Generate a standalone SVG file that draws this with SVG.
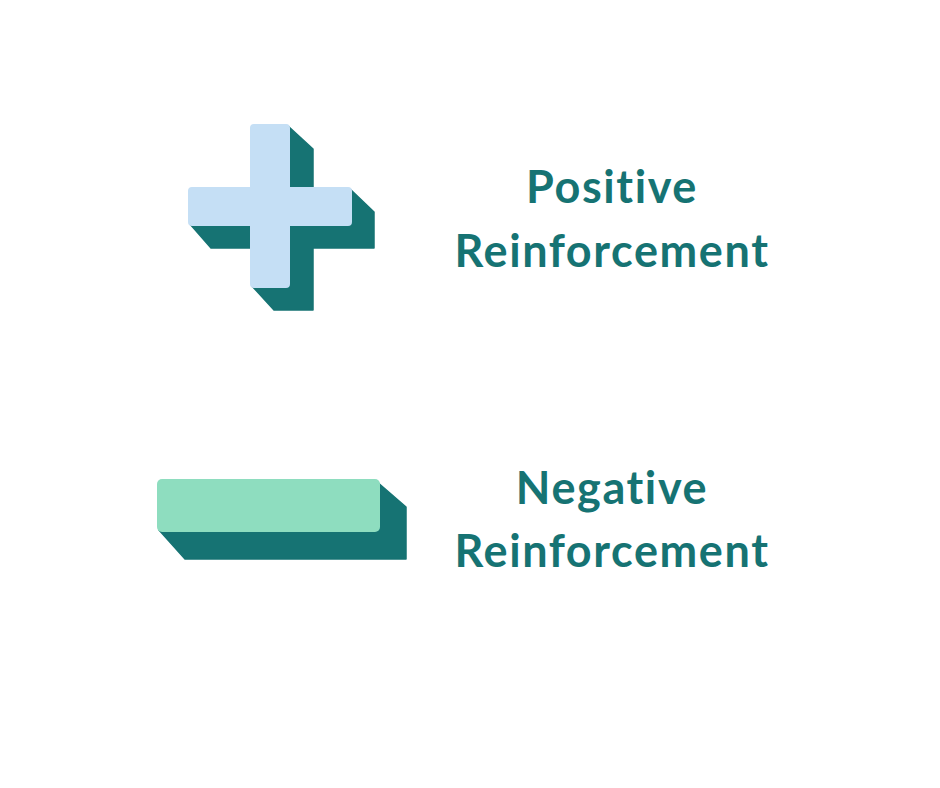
<svg xmlns="http://www.w3.org/2000/svg" width="940" height="788" viewBox="0 0 940 788">
<style>
.shadow{fill:#167373;stroke:#167373;stroke-width:1.5;stroke-linejoin:round}
.label{font-family:Lato,"Liberation Sans",sans-serif;font-weight:700;font-size:45px;letter-spacing:1.6px;font-variant-ligatures:none;fill:#167373;text-anchor:middle}
</style>
<rect width="940" height="788" fill="#ffffff"/>
<g id="plus">
<polygon class="shadow" points="254,128 288,126 313,149 313,189 350,189 374,212 374,248 313,248 313,310 274,310 252,286 252,248 211,248 190,224 190,189 254,189"/>
<path fill="#C5DFF5" d="M254,124 H286 Q290,124 290,128 V187 H348 Q352,187 352,191 V222 Q352,226 348,226 H290 V284 Q290,288 286,288 H254 Q250,288 250,284 V226 H192 Q188,226 188,222 V191 Q188,187 192,187 H250 V128 Q250,124 254,124 Z"/>
</g>
<g id="minus">
<polygon class="shadow" points="376,481 406,507 406,559 185,559 159,530"/>
<rect x="157" y="479" width="223" height="53" rx="5" fill="#8EDDBF"/>
</g>
<g id="positive-label">
<text class="label" x="612" y="203">Positive</text>
<text class="label" x="612" y="267">Reinforcement</text>
</g>
<g id="negative-label">
<text class="label" x="612" y="504">Negative</text>
<text class="label" x="612" y="567">Reinforcement</text>
</g>
<g id="connectors"></g>
</svg>
